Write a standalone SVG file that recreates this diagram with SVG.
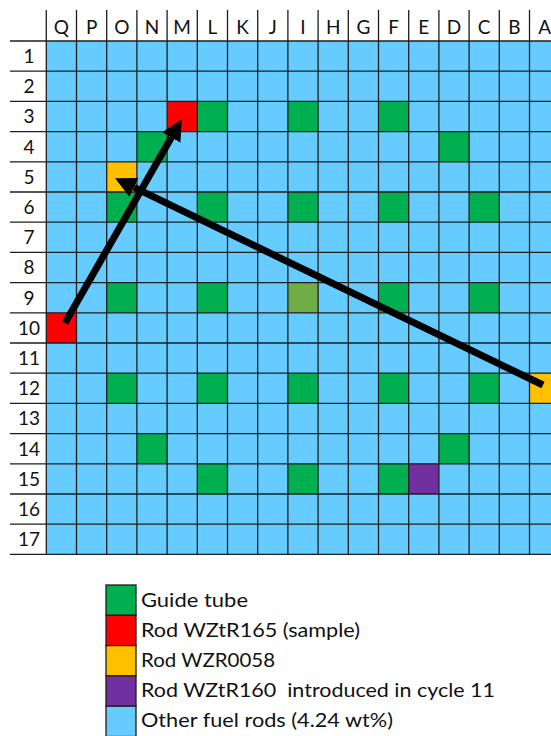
<svg xmlns="http://www.w3.org/2000/svg" width="551" height="736" viewBox="0 0 551 736">
<style>
.lbl{font-family:Lato,"Liberation Sans",sans-serif;font-size:19px;fill:#111;text-anchor:middle}
.leg{font-family:Lato,"Liberation Sans",sans-serif;font-size:20px;fill:#111}
.gl{stroke:#1e1e1e;stroke-width:1.3;fill:none}
.g{fill:#00B050}.r{fill:#FF0000}.o{fill:#FFC000}.p{fill:#7030A0}.v{fill:#70AD47}.b{fill:#66CCFF}
.box{stroke:#1e1e1e;stroke-width:1.3}
.arr{stroke:#000;stroke-width:7;fill:none;marker-end:url(#ah)}
</style>
<defs>
<marker id="ah" markerUnits="userSpaceOnUse" markerWidth="24" markerHeight="24" refX="0" refY="12" orient="auto" viewBox="0 0 24 24">
<polygon points="0,1.5 21,12 0,22.5" fill="#000"/>
</marker>
</defs>
<rect width="551" height="736" fill="#fff"/>
<g id="grid">
<rect class="b" x="46.3" y="41" width="513.4" height="513.4"/>
<g id="cells">
<rect class="r" x="167.1" y="101.4" width="30.2" height="30.2"/>
<rect class="g" x="197.3" y="101.4" width="30.2" height="30.2"/>
<rect class="g" x="287.9" y="101.4" width="30.2" height="30.2"/>
<rect class="g" x="378.5" y="101.4" width="30.2" height="30.2"/>
<rect class="g" x="136.9" y="131.6" width="30.2" height="30.2"/>
<rect class="g" x="438.9" y="131.6" width="30.2" height="30.2"/>
<rect class="o" x="106.7" y="161.8" width="30.2" height="30.2"/>
<rect class="g" x="106.7" y="192" width="30.2" height="30.2"/>
<rect class="g" x="197.3" y="192" width="30.2" height="30.2"/>
<rect class="g" x="287.9" y="192" width="30.2" height="30.2"/>
<rect class="g" x="378.5" y="192" width="30.2" height="30.2"/>
<rect class="g" x="469.1" y="192" width="30.2" height="30.2"/>
<rect class="g" x="106.7" y="282.6" width="30.2" height="30.2"/>
<rect class="g" x="197.3" y="282.6" width="30.2" height="30.2"/>
<rect class="v" x="287.9" y="282.6" width="30.2" height="30.2"/>
<rect class="g" x="378.5" y="282.6" width="30.2" height="30.2"/>
<rect class="g" x="469.1" y="282.6" width="30.2" height="30.2"/>
<rect class="r" x="46.3" y="312.8" width="30.2" height="30.2"/>
<rect class="g" x="106.7" y="373.2" width="30.2" height="30.2"/>
<rect class="g" x="197.3" y="373.2" width="30.2" height="30.2"/>
<rect class="g" x="287.9" y="373.2" width="30.2" height="30.2"/>
<rect class="g" x="378.5" y="373.2" width="30.2" height="30.2"/>
<rect class="g" x="469.1" y="373.2" width="30.2" height="30.2"/>
<rect class="o" x="529.5" y="373.2" width="30.2" height="30.2"/>
<rect class="g" x="136.9" y="433.6" width="30.2" height="30.2"/>
<rect class="g" x="438.9" y="433.6" width="30.2" height="30.2"/>
<rect class="g" x="197.3" y="463.8" width="30.2" height="30.2"/>
<rect class="g" x="287.9" y="463.8" width="30.2" height="30.2"/>
<rect class="g" x="378.5" y="463.8" width="30.2" height="30.2"/>
<rect class="p" x="408.7" y="463.8" width="30.2" height="30.2"/>
</g>
<path class="gl" d="M46.3 10V554.4M76.5 10V554.4M106.7 10V554.4M136.9 10V554.4M167.1 10V554.4M197.3 10V554.4M227.5 10V554.4M257.7 10V554.4M287.9 10V554.4M318.1 10V554.4M348.3 10V554.4M378.5 10V554.4M408.7 10V554.4M438.9 10V554.4M469.1 10V554.4M499.3 10V554.4M529.5 10V554.4
M10 41H551M10 71.2H551M10 101.4H551M10 131.6H551M10 161.8H551M10 192H551M10 222.2H551M10 252.4H551M10 282.6H551M10 312.8H551M10 343H551M10 373.2H551M10 403.4H551M10 433.6H551M10 463.8H551M10 494H551M10 524.2H551M10 554.4H551"/>
<g id="col-labels">
<text class="lbl" x="61.4" y="34">Q</text>
<text class="lbl" x="91.6" y="34">P</text>
<text class="lbl" x="121.8" y="34">O</text>
<text class="lbl" x="152" y="34">N</text>
<text class="lbl" x="182.2" y="34">M</text>
<text class="lbl" x="212.4" y="34">L</text>
<text class="lbl" x="242.6" y="34">K</text>
<text class="lbl" x="272.8" y="34">J</text>
<text class="lbl" x="303" y="34">I</text>
<text class="lbl" x="333.2" y="34">H</text>
<text class="lbl" x="363.4" y="34">G</text>
<text class="lbl" x="393.6" y="34">F</text>
<text class="lbl" x="423.8" y="34">E</text>
<text class="lbl" x="454" y="34">D</text>
<text class="lbl" x="484.2" y="34">C</text>
<text class="lbl" x="514.4" y="34">B</text>
<text class="lbl" x="544.6" y="34">A</text>
</g>
<g id="row-labels">
<text class="lbl" x="29" y="63">1</text>
<text class="lbl" x="29" y="93.2">2</text>
<text class="lbl" x="29" y="123.4">3</text>
<text class="lbl" x="29" y="153.6">4</text>
<text class="lbl" x="29" y="183.8">5</text>
<text class="lbl" x="29" y="214">6</text>
<text class="lbl" x="29" y="244.2">7</text>
<text class="lbl" x="29" y="274.4">8</text>
<text class="lbl" x="29" y="304.6">9</text>
<text class="lbl" x="29" y="334.8">10</text>
<text class="lbl" x="29" y="365">11</text>
<text class="lbl" x="29" y="395.2">12</text>
<text class="lbl" x="29" y="425.4">13</text>
<text class="lbl" x="29" y="455.6">14</text>
<text class="lbl" x="29" y="485.8">15</text>
<text class="lbl" x="29" y="516">16</text>
<text class="lbl" x="29" y="546.2">17</text>
</g>
</g>
<g id="connectors">
<line class="arr" x1="65" y1="323" x2="171.3" y2="137.5"/>
<line class="arr" x1="543" y1="385" x2="134" y2="187.4"/>
</g>
<g id="legend">
<g id="leg-guide"><rect class="g box" x="106" y="585" width="30" height="30.3"/><text class="leg" x="141" y="606.5" textLength="107" lengthAdjust="spacingAndGlyphs">Guide tube</text></g>
<g id="leg-wztr165"><rect class="r box" x="106" y="615.3" width="30" height="30.3"/><text class="leg" x="141" y="636.5" textLength="219" lengthAdjust="spacingAndGlyphs">Rod WZtR165 (sample)</text></g>
<g id="leg-wzr0058"><rect class="o box" x="106" y="645.6" width="30" height="30.3"/><text class="leg" x="141" y="666.7" textLength="134" lengthAdjust="spacingAndGlyphs">Rod WZR0058</text></g>
<g id="leg-wztr160"><rect class="p box" x="106" y="675.9" width="30" height="30.3"/><text class="leg" x="141" y="696.8" xml:space="preserve" textLength="354" lengthAdjust="spacingAndGlyphs">Rod WZtR160  introduced in cycle 11</text></g>
<g id="leg-other"><rect class="b box" x="106" y="706.2" width="30" height="30.3"/><text class="leg" x="141" y="727" textLength="252" lengthAdjust="spacingAndGlyphs">Other fuel rods (4.24 wt%)</text></g>
</g>
</svg>
